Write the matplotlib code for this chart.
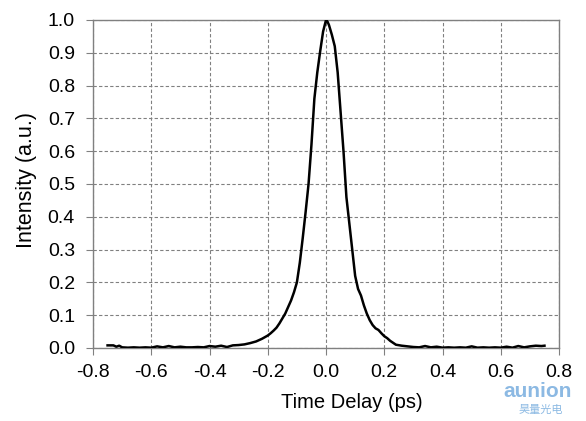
import matplotlib
matplotlib.use("Agg")
import matplotlib.pyplot as plt

plt.rcParams["font.family"] = ["Liberation Sans", "Noto Sans CJK SC", "DejaVu Sans"]

# autocorrelation trace
delay = [-0.75, -0.73, -0.72, -0.71, -0.70, -0.68, -0.66, -0.64, -0.62, -0.60,
         -0.58, -0.56, -0.54, -0.52, -0.50, -0.48, -0.46, -0.44, -0.42, -0.40,
         -0.38, -0.36, -0.34, -0.32, -0.30, -0.28, -0.26, -0.24, -0.22, -0.20,
         -0.19, -0.18, -0.17, -0.16, -0.15, -0.14, -0.13, -0.12, -0.11, -0.10,
         -0.09, -0.08, -0.07, -0.06, -0.05, -0.04, -0.03, -0.02, -0.01, 0.0,
         0.005, 0.01, 0.02, 0.03, 0.04, 0.05, 0.06, 0.07, 0.08, 0.09,
         0.10, 0.11, 0.12, 0.13, 0.14, 0.15, 0.16, 0.17, 0.18, 0.19,
         0.20, 0.21, 0.22, 0.23, 0.24, 0.26, 0.28, 0.30, 0.32, 0.34,
         0.36, 0.38, 0.40, 0.42, 0.44, 0.46, 0.48, 0.50, 0.52, 0.54,
         0.56, 0.58, 0.60, 0.62, 0.64, 0.66, 0.68, 0.70, 0.72, 0.74, 0.75]
intensity = [0.008, 0.008, 0.004, 0.007, 0.002, 0.001, 0.002, 0.001, 0.002, 0.001,
             0.005, 0.002, 0.006, 0.002, 0.004, 0.002, 0.002, 0.003, 0.002, 0.006,
             0.004, 0.007, 0.003, 0.008, 0.009, 0.011, 0.015, 0.020, 0.028, 0.038,
             0.045, 0.053, 0.062, 0.075, 0.090, 0.105, 0.125, 0.145, 0.170, 0.200,
             0.260, 0.335, 0.415, 0.500, 0.620, 0.760, 0.840, 0.905, 0.965, 1.0,
             0.995, 0.985, 0.955, 0.920, 0.840, 0.720, 0.600, 0.460, 0.380, 0.300,
             0.220, 0.180, 0.160, 0.130, 0.105, 0.085, 0.070, 0.060, 0.055, 0.045,
             0.036, 0.030, 0.022, 0.016, 0.010, 0.007, 0.005, 0.003, 0.002, 0.006,
             0.002, 0.004, 0.001, 0.002, 0.001, 0.002, 0.001, 0.005, 0.001, 0.002,
             0.001, 0.002, 0.001, 0.004, 0.001, 0.006, 0.002, 0.005, 0.007, 0.006, 0.007]

x_ticks = [-0.8, -0.6, -0.4, -0.2, 0.0, 0.2, 0.4, 0.6, 0.8]
y_ticks = [0.0, 0.1, 0.2, 0.3, 0.4, 0.5, 0.6, 0.7, 0.8, 0.9, 1.0]

fig = plt.figure(figsize=(5.86, 4.21), dpi=100)
ax = fig.add_axes([0.1587, 0.1734, 0.7953, 0.7791])

ax.plot(delay, intensity, color="black", linewidth=1.8, zorder=3)

ax.set_xlim(-0.8, 0.8)
ax.set_ylim(0.0, 1.0)
ax.set_xticks(x_ticks)
ax.set_yticks(y_ticks)
ax.set_xticklabels(["%.1f" % v for v in x_ticks])
ax.set_yticklabels(["%.1f" % v for v in y_ticks])
ax.grid(True, color="#808080", linestyle=(0, (3, 2)), linewidth=0.8)
for s in ax.spines.values():
    s.set_color("#808080")
    s.set_linewidth(1.0)
ax.tick_params(axis="both", direction="out", length=5, color="#808080",
               labelsize=14)
ax.tick_params(axis="x", pad=6.5)
ax.tick_params(axis="y", pad=8)
ax.set_xlabel("Time Delay (ps)", fontsize=14.5)
ax.xaxis.set_label_coords(0.556, -0.136, transform=ax.transAxes)
ax.set_ylabel("Intensity (a.u.)", fontsize=15.5, labelpad=8)
ax.yaxis.label.set_y(0.512)

# watermark in the corner
fig.text(0.917, 0.069, "aunion", color="#6fa8dc", fontsize=15, fontweight="bold",
         ha="center", va="center", alpha=0.8)
fig.text(0.922, 0.026, "昊量光电", color="#6fa8dc", fontsize=8,
         ha="center", va="center", alpha=0.8)

fig.savefig("out.png", dpi=100)
